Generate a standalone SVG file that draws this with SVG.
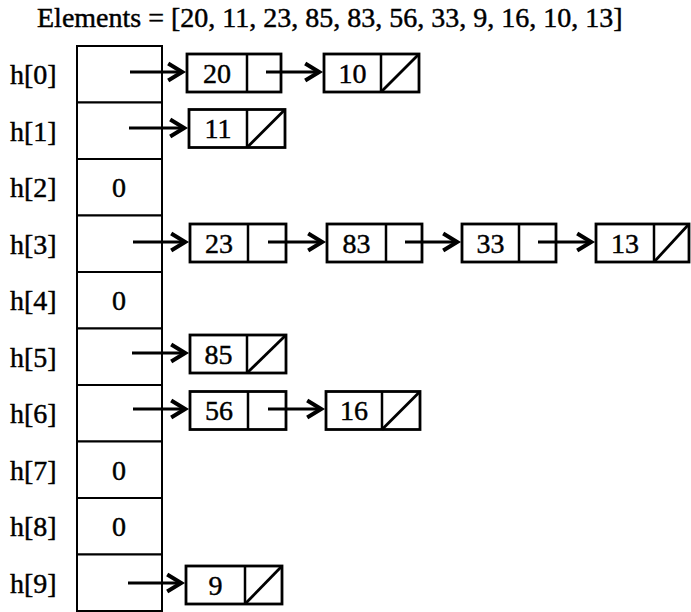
<svg xmlns="http://www.w3.org/2000/svg" width="691" height="612" viewBox="0 0 691 612">
<style>
  text { font-family: "Liberation Serif", "Times New Roman", serif; font-size: 28px; fill: #000; stroke: #000; stroke-width: 0.45; }
  .lbl { text-anchor: start; }
  .mid { text-anchor: middle; }
  .cell { fill: #fff; stroke: #000; stroke-width: 2; }
  .box { fill: #fff; stroke: #000; stroke-width: 2.8; }
  .div { stroke: #000; stroke-width: 2.5; }
  .nul { stroke: #000; stroke-width: 2.8; }
  .con { fill: none; stroke: #000; stroke-width: 3.2; marker-end: url(#ah); }
</style>
<defs>
  <marker id="ah" markerUnits="userSpaceOnUse" markerWidth="24" markerHeight="24" refX="16.8" refY="12" orient="auto" overflow="visible">
    <path d="M3,3.5 L17,12 L3,20.5" fill="none" stroke="#000" stroke-width="4" stroke-linejoin="miter"/>
  </marker>
</defs>
<rect width="691" height="612" fill="#fff"/>
<text id="title" x="37" y="27">Elements = [20, 11, 23, 85, 83, 56, 33, 9, 16, 10, 13]</text>

<g id="table">
  <g id="h0"><rect class="cell" x="77" y="46" width="85" height="56.5"/><text class="lbl" x="10" y="84">h[0]</text></g>
  <g id="h1"><rect class="cell" x="77" y="102.5" width="85" height="56.5"/><text class="lbl" x="10" y="140.5">h[1]</text></g>
  <g id="h2"><rect class="cell" x="77" y="159" width="85" height="56.5"/><text class="lbl" x="10" y="197">h[2]</text><text class="mid" x="119" y="197">0</text></g>
  <g id="h3"><rect class="cell" x="77" y="215.5" width="85" height="56.5"/><text class="lbl" x="10" y="253.5">h[3]</text></g>
  <g id="h4"><rect class="cell" x="77" y="272" width="85" height="56.5"/><text class="lbl" x="10" y="310">h[4]</text><text class="mid" x="119" y="310">0</text></g>
  <g id="h5"><rect class="cell" x="77" y="328.5" width="85" height="56.5"/><text class="lbl" x="10" y="366.5">h[5]</text></g>
  <g id="h6"><rect class="cell" x="77" y="385" width="85" height="56.5"/><text class="lbl" x="10" y="423">h[6]</text></g>
  <g id="h7"><rect class="cell" x="77" y="441.5" width="85" height="56.5"/><text class="lbl" x="10" y="479.5">h[7]</text><text class="mid" x="119" y="479.5">0</text></g>
  <g id="h8"><rect class="cell" x="77" y="498" width="85" height="56.5"/><text class="lbl" x="10" y="536">h[8]</text><text class="mid" x="119" y="536">0</text></g>
  <g id="h9"><rect class="cell" x="77" y="554.5" width="85" height="56.5"/><text class="lbl" x="10" y="592.5">h[9]</text></g>
</g>

<g id="n20"><rect class="box" x="187" y="54" width="94" height="38"/><line class="div" x1="247" y1="54" x2="247" y2="92"/><text class="mid" x="217" y="82.5">20</text></g>
<g id="n10"><rect class="box" x="324" y="54" width="95" height="38"/><line class="div" x1="381" y1="54" x2="381" y2="92"/><line class="nul" x1="381" y1="92" x2="419" y2="54"/><text class="mid" x="352.5" y="82.5">10</text></g>
<g id="n11"><rect class="box" x="189" y="109.5" width="96" height="38"/><line class="div" x1="247" y1="109.5" x2="247" y2="147.5"/><line class="nul" x1="247" y1="147.5" x2="285" y2="109.5"/><text class="mid" x="218" y="138">11</text></g>
<g id="n23"><rect class="box" x="190" y="224" width="96" height="38"/><line class="div" x1="248" y1="224" x2="248" y2="262"/><text class="mid" x="219" y="252.5">23</text></g>
<g id="n83"><rect class="box" x="327" y="224" width="95" height="38"/><line class="div" x1="386" y1="224" x2="386" y2="262"/><text class="mid" x="356.5" y="252.5">83</text></g>
<g id="n33"><rect class="box" x="462" y="224" width="94" height="38"/><line class="div" x1="519" y1="224" x2="519" y2="262"/><text class="mid" x="490.5" y="252.5">33</text></g>
<g id="n13"><rect class="box" x="596" y="224" width="93" height="38"/><line class="div" x1="654" y1="224" x2="654" y2="262"/><line class="nul" x1="654" y1="262" x2="689" y2="224"/><text class="mid" x="625" y="252.5">13</text></g>
<g id="n85"><rect class="box" x="190" y="335" width="96" height="38"/><line class="div" x1="247" y1="335" x2="247" y2="373"/><line class="nul" x1="247" y1="373" x2="286" y2="335"/><text class="mid" x="218.5" y="363.5">85</text></g>
<g id="n56"><rect class="box" x="190" y="391.5" width="96" height="38"/><line class="div" x1="248" y1="391.5" x2="248" y2="429.5"/><text class="mid" x="219" y="420">56</text></g>
<g id="n16"><rect class="box" x="326" y="391.5" width="94" height="38"/><line class="div" x1="382" y1="391.5" x2="382" y2="429.5"/><line class="nul" x1="382" y1="429.5" x2="420" y2="391.5"/><text class="mid" x="354" y="420">16</text></g>
<g id="n9"><rect class="box" x="186" y="566" width="96" height="38"/><line class="div" x1="245" y1="566" x2="245" y2="604"/><line class="nul" x1="245" y1="604" x2="282" y2="566"/><text class="mid" x="215.5" y="594.5">9</text></g>

<g id="connectors">
  <path class="con" d="M130,72 H182"/>
  <path class="con" d="M266,72 H319"/>
  <path class="con" d="M129,128 H184"/>
  <path class="con" d="M133,242 H185"/>
  <path class="con" d="M268,242 H322"/>
  <path class="con" d="M405,242 H457"/>
  <path class="con" d="M538,242 H591"/>
  <path class="con" d="M132,353 H185"/>
  <path class="con" d="M133,409 H185"/>
  <path class="con" d="M268,409 H321"/>
  <path class="con" d="M128,583 H181"/>
</g>
</svg>
